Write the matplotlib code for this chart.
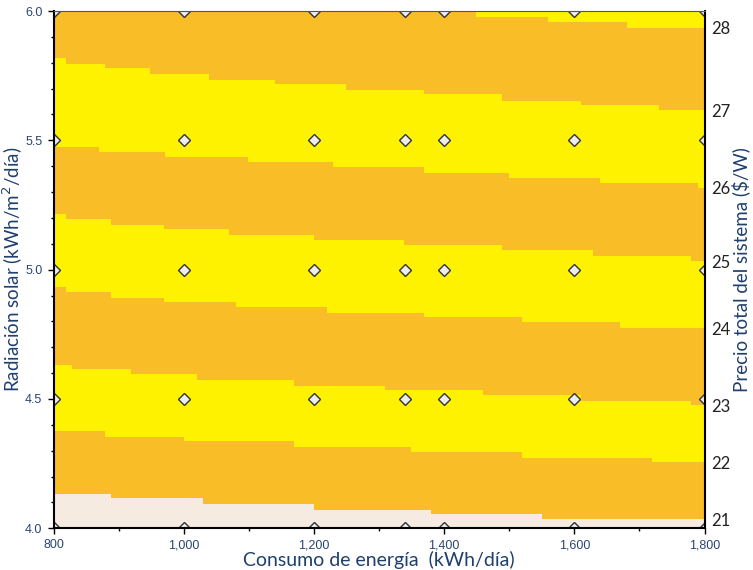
import numpy as np
import matplotlib.pyplot as plt
from matplotlib.ticker import MultipleLocator, FuncFormatter

# step boundaries between price bands (x = start of each step, kWh/dia)
b28_x = [800, 1449, 1560, 1681]
b28_y = [6.0, 5.978, 5.956, 5.935]
b27_x = [800, 819, 879, 948, 1039, 1140, 1249, 1369, 1489, 1610, 1730]
b27_y = [5.817, 5.794, 5.778, 5.756, 5.734, 5.719, 5.696, 5.678, 5.653, 5.638, 5.616]
b26_x = [800, 870, 971, 1099, 1229, 1369, 1499, 1640, 1790]
b26_y = [5.475, 5.455, 5.437, 5.417, 5.395, 5.375, 5.355, 5.336, 5.316]
b25_x = [800, 819, 888, 970, 1070, 1200, 1338, 1489, 1629, 1779]
b25_y = [5.215, 5.196, 5.172, 5.157, 5.135, 5.114, 5.096, 5.076, 5.054, 5.033]
b24_x = [800, 819, 888, 970, 1081, 1220, 1369, 1520, 1670]
b24_y = [4.934, 4.913, 4.891, 4.876, 4.855, 4.834, 4.817, 4.796, 4.773]
b23_x = [800, 828, 919, 1020, 1170, 1309, 1460, 1610, 1779]
b23_y = [4.632, 4.616, 4.595, 4.573, 4.552, 4.534, 4.515, 4.493, 4.476]
b22_x = [800, 879, 1000, 1170, 1349, 1520, 1720]
b22_y = [4.375, 4.353, 4.337, 4.314, 4.293, 4.270, 4.255]
b21_x = [800, 888, 1030, 1200, 1380, 1550]
b21_y = [4.131, 4.116, 4.094, 4.071, 4.055, 4.034]

levels = [28, 27, 26, 25, 24, 23, 22, 21]

# simulated points
consumo = [800, 1000, 1200, 1340, 1400, 1600, 1800]
radiacion = [4.0, 4.5, 5.0, 5.5, 6.0]

yellow = '#FFF200'
orange = '#F9BD27'
beige = '#F5EBE1'
navy = '#1F3F6E'

fig = plt.figure(figsize=(7.53, 5.70), dpi=100)
ax = fig.add_axes([0.0711, 0.0732, 0.8645, 0.9075])

xmin, xmax = 800, 1800
ymin, ymax = 4.0, 6.0

ax.fill_between([xmin, xmax], ymin, ymax, color=yellow, lw=0)
bounds = [(b28_x, b28_y), (b27_x, b27_y), (b26_x, b26_y), (b25_x, b25_y),
          (b24_x, b24_y), (b23_x, b23_y), (b22_x, b22_y), (b21_x, b21_y)]
band_cols = [orange, yellow, orange, yellow, orange, yellow, orange, beige]
for (bx, by), c in zip(bounds, band_cols):
    xs = bx + [xmax]
    ys = by + [by[-1]]
    ax.fill_between(xs, ymin, ys, step='post', color=c, lw=0)

X, Y = np.meshgrid(consumo, radiacion)
ax.plot(X.ravel(), Y.ravel(), 'D', ms=6, mfc='#EDEDED', mec='#333333', mew=1,
        ls='none', zorder=2, clip_on=True)

ax.set_xlim(xmin, xmax)
ax.set_ylim(ymin, ymax)
ax.xaxis.set_major_locator(MultipleLocator(200))
ax.xaxis.set_minor_locator(MultipleLocator(100))
ax.yaxis.set_major_locator(MultipleLocator(0.5))
ax.yaxis.set_minor_locator(MultipleLocator(0.1))
ax.xaxis.set_major_formatter(FuncFormatter(lambda v, p: '{:,.0f}'.format(v)))
ax.yaxis.set_major_formatter(FuncFormatter(lambda v, p: '{:.1f}'.format(v)))
ax.tick_params(which='major', length=4, width=1, color='black',
               labelsize=9, labelcolor='#2B4570', pad=4)
ax.tick_params(which='minor', length=2, width=1, color='black')
for lab in ax.get_xticklabels() + ax.get_yticklabels():
    lab.set_family('Liberation Sans')
for s in ['left', 'bottom', 'right']:
    ax.spines[s].set_linewidth(1.5)
ax.spines['top'].set_color('#555555')

ax.set_xlabel('Consumo de energía  (kWh/día)', fontsize=14, color=navy,
              family='Lato', labelpad=0)
ax.set_ylabel('Radiación solar (kWh/m$^2$/día)', fontsize=13.5, color=navy,
              family='Lato', va='center')
ax.yaxis.set_label_coords(-0.062, 0.5)

# right axis: price level at each band edge on the right side
ax2 = ax.twinx()
ax2.set_ylim(ymin, ymax)
ax2.set_yticks([by[-1] for bx, by in bounds])
ax2.set_yticklabels([str(v) for v in levels], fontsize=12, family='Lato',
                    color='#222222')
ax2.tick_params(axis='y', length=0, pad=5)
ax2.set_ylabel('Precio total del sistema ($/W)', fontsize=13.5, color=navy,
               family='Lato', va='center')
ax2.yaxis.set_label_coords(1.056, 0.5)
for s in ax2.spines.values():
    s.set_visible(False)

fig.savefig('out.png', dpi=100)
